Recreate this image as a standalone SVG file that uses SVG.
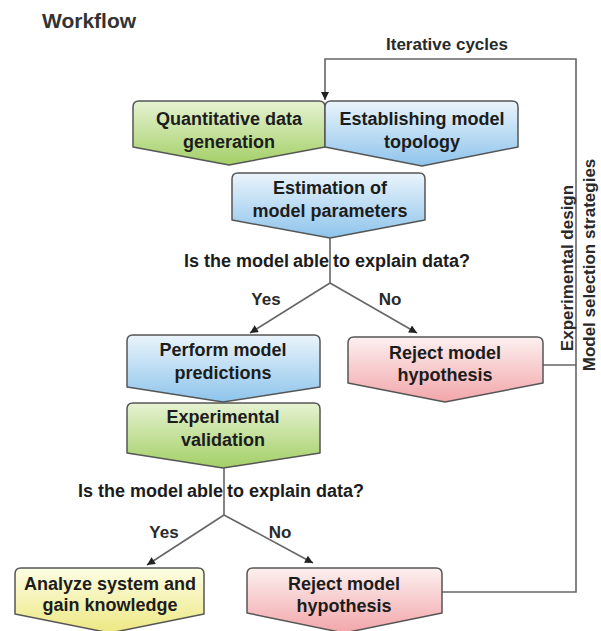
<svg xmlns="http://www.w3.org/2000/svg" width="601" height="631" viewBox="0 0 601 631">
<style>
.box{stroke:#555;stroke-width:1.5;stroke-linejoin:round}
.t{font-family:"Liberation Sans",Arial,sans-serif;font-weight:bold;font-size:18px;fill:#1c1c1c;text-anchor:middle}
.lab{font-family:"Liberation Sans",Arial,sans-serif;font-weight:bold;font-size:17px;fill:#2a2a2a;text-anchor:middle}
.c{fill:none;stroke:#666;stroke-width:1.6}
</style>
<defs>
<linearGradient id="gGreen" x1="0" y1="0" x2="0" y2="1"><stop offset="0" stop-color="#e6f2d2"/><stop offset="1" stop-color="#a3cf66"/></linearGradient>
<linearGradient id="gBlue" x1="0" y1="0" x2="0" y2="1"><stop offset="0" stop-color="#eaf4fb"/><stop offset="1" stop-color="#8ec4ec"/></linearGradient>
<linearGradient id="gPink" x1="0" y1="0" x2="0" y2="1"><stop offset="0" stop-color="#fdf0f0"/><stop offset="1" stop-color="#f2a6aa"/></linearGradient>
<linearGradient id="gYellow" x1="0" y1="0" x2="0" y2="1"><stop offset="0" stop-color="#fdfde3"/><stop offset="1" stop-color="#ede883"/></linearGradient>
<marker id="arr" viewBox="0 0 10 10" refX="10" refY="5" markerWidth="10" markerHeight="8" markerUnits="userSpaceOnUse" orient="auto"><path d="M0,0 L10,5 L0,10 z" fill="#222"/></marker>
</defs>

<text x="42" y="28" font-family="Liberation Sans,Arial,sans-serif" font-weight="bold" font-size="21" fill="#333">Workflow</text>

<g id="connectors">
<path class="c" d="M442,592 H576 V59 H325 V100" marker-end="url(#arr)"/>
<path class="c" d="M543,365 H576"/>
<path class="c" d="M330,238 V283"/>
<path class="c" d="M330,283 L250,333" marker-end="url(#arr)"/>
<path class="c" d="M330,283 L417,333" marker-end="url(#arr)"/>
<path class="c" d="M224,468 V515"/>
<path class="c" d="M224,515 L147,565" marker-end="url(#arr)"/>
<path class="c" d="M224,515 L313,563" marker-end="url(#arr)"/>
<text class="lab" x="447" y="50">Iterative cycles</text>
<text class="lab" font-size="18" transform="translate(573,268) rotate(-90)">Experimental design</text>
<text class="lab" font-size="18" transform="translate(595,265) rotate(-90)">Model selection strategies</text>
<text class="t" x="327" y="267">Is the model <tspan dx="-1">able</tspan><tspan dx="4">to explain data?</tspan></text>
<text class="lab" x="266" y="305">Yes</text>
<text class="lab" x="390" y="305">No</text>
<text class="t" x="221" y="497">Is the model <tspan dx="-1">able</tspan><tspan dx="4">to explain data?</tspan></text>
<text class="lab" x="164" y="538">Yes</text>
<text class="lab" x="280" y="538">No</text>
</g>

<g id="n-quant">
<path class="box" fill="url(#gGreen)" d="M133,107 Q133,101 139,101 H319 Q325,101 325,107 V147 L229,165 L133,147 Z"/>
<text class="t" x="229" y="125">Quantitative data</text>
<text class="t" x="229" y="148">generation</text>
</g>
<g id="n-topology">
<path class="box" fill="url(#gBlue)" d="M325,107 Q325,101 331,101 H512 Q518,101 518,107 V147 L422,166 L325,147 Z"/>
<text class="t" x="422" y="125">Establishing model</text>
<text class="t" x="422" y="148">topology</text>
</g>
<g id="n-estimation">
<path class="box" fill="url(#gBlue)" d="M232,179 Q232,173 238,173 H419 Q425,173 425,179 V220 L330,238 L232,220 Z"/>
<text class="t" x="330" y="194">Estimation of</text>
<text class="t" x="330" y="217">model parameters</text>
</g>
<g id="n-predictions">
<path class="box" fill="url(#gBlue)" d="M127,341 Q127,335 133,335 H314 Q320,335 320,341 V387 L223,402 L127,387 Z"/>
<text class="t" x="223" y="356">Perform model</text>
<text class="t" x="223" y="379">predictions</text>
</g>
<g id="n-validation">
<path class="box" fill="url(#gGreen)" d="M127,409 Q127,403 133,403 H314 Q320,403 320,409 V453 L223,468 L127,453 Z"/>
<text class="t" x="223" y="423">Experimental</text>
<text class="t" x="223" y="446">validation</text>
</g>
<g id="n-reject1">
<path class="box" fill="url(#gPink)" d="M348,343 Q348,337 354,337 H537 Q543,337 543,343 V383 L445,402 L348,383 Z"/>
<text class="t" x="445" y="359">Reject model</text>
<text class="t" x="445" y="381">hypothesis</text>
</g>
<g id="n-analyze">
<path class="box" fill="url(#gYellow)" d="M15,574 Q15,568 21,568 H198 Q204,568 204,574 V614 L110,633 L15,614 Z"/>
<text class="t" x="110" y="590">Analyze system and</text>
<text class="t" x="110" y="611">gain knowledge</text>
</g>
<g id="n-reject2">
<path class="box" fill="url(#gPink)" d="M247,574 Q247,568 253,568 H436 Q442,568 442,574 V613 L344,633 L247,613 Z"/>
<text class="t" x="344" y="590">Reject model</text>
<text class="t" x="344" y="612">hypothesis</text>
</g>
</svg>
